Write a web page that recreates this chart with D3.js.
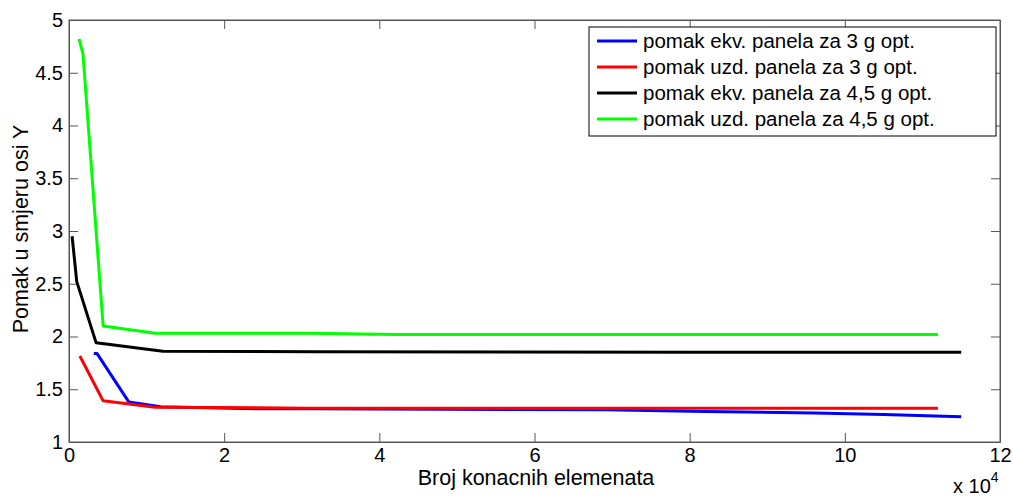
<!DOCTYPE html>
<html>
<head>
<meta charset="utf-8">
<script src="https://cdn.jsdelivr.net/npm/d3@7"></script>
<style>
  body { margin: 0; background: #fff; }
  svg { display: block; font-family: "Liberation Sans", Arial, sans-serif; }
  .axis path, .axis line { stroke: #555; }
  .axis text { fill: #000; font-size: 20px; font-family: "Liberation Sans", Arial, sans-serif; }
</style>
</head>
<body>
<div id="chart"></div>
<script>
const WIDTH = 1013;
const HEIGHT = 496;

// broj elemenata / pomak
const blueX  = [3200, 3600, 7700, 11800, 24000, 31000, 69000, 82000, 96000, 105000, 115000];
const blueY  = [1.84, 1.84, 1.38, 1.335, 1.315, 1.315, 1.305, 1.29, 1.275, 1.26, 1.24];
const redX   = [1400, 4400, 11100, 31000, 112000];
const redY   = [1.815, 1.39, 1.33, 1.32, 1.32];
const blackX = [400, 1000, 3500, 12100, 32000, 81000, 115000];
const blackY = [2.95, 2.52, 1.94, 1.86, 1.855, 1.85, 1.85];
const greenX = [1300, 1800, 4400, 11100, 31000, 42000, 112000];
const greenY = [4.82, 4.68, 2.10, 2.03, 2.03, 2.02, 2.02];

const seriesNames = [
  "pomak ekv. panela za 3 g opt.",
  "pomak uzd. panela za 3 g opt.",
  "pomak ekv. panela za 4,5 g opt.",
  "pomak uzd. panela za 4,5 g opt."
];
const seriesColors = ["#0000ff", "#ff0000", "#000000", "#00ff00"];

const xTicks = [0, 20000, 40000, 60000, 80000, 100000, 120000];
const yTicks = [1, 1.5, 2, 2.5, 3, 3.5, 4, 4.5, 5];

function setup(){
    let svg = d3.select("#chart")
        .append("svg")
        .attr("width", WIDTH)
        .attr("height", HEIGHT);

    let x = d3.scaleLinear().domain([0, 120000]).range([69, 1000]);
    let y = d3.scaleLinear().domain([1, 5]).range([442, 20]);

    // frame
    svg.append("rect")
        .attr("x", x(0)).attr("y", y(5))
        .attr("width", x(120000) - x(0))
        .attr("height", y(1) - y(5))
        .style("fill", "none").style("stroke", "#555");

    let xAxis = d3.axisBottom(x).tickValues(xTicks)
        .tickFormat(d => d / 10000).tickSizeInner(-9).tickSizeOuter(0).tickPadding(6);
    let yAxis = d3.axisLeft(y).tickValues(yTicks)
        .tickFormat(d => d).tickSizeInner(-9).tickSizeOuter(0).tickPadding(6);
    svg.append("g").attr("class", "x axis").attr("transform", "translate(0," + y(1) + ")").call(xAxis);
    svg.append("g").attr("class", "y axis").attr("transform", "translate(" + x(0) + ",0)").call(yAxis);
    // mirrored ticks top / right
    svg.append("g").attr("class", "axis").attr("transform", "translate(0," + y(5) + ")")
        .call(d3.axisTop(x).tickValues(xTicks).tickFormat("").tickSizeInner(-9).tickSizeOuter(0));
    svg.append("g").attr("class", "axis").attr("transform", "translate(" + x(120000) + ",0)")
        .call(d3.axisRight(y).tickValues(yTicks).tickFormat("").tickSizeInner(-9).tickSizeOuter(0));

    let line = d3.line().x(d => x(d[0])).y(d => y(d[1]));
    let allSeries = [
        d3.zip(blueX, blueY),
        d3.zip(redX, redY),
        d3.zip(blackX, blackY),
        d3.zip(greenX, greenY)
    ];
    svg.append("g").selectAll("path")
        .data(allSeries)
        .enter()
        .append("path")
        .attr("d", line)
        .style("fill", "none")
        .style("stroke", (d, i) => seriesColors[i])
        .style("stroke-width", 3)
        .style("stroke-linejoin", "round");

    // axis titles
    svg.append("text")
        .attr("x", 536).attr("y", 485)
        .attr("text-anchor", "middle")
        .style("font-size", "21.5px")
        .text("Broj konacnih elemenata");
    svg.append("text")
        .attr("transform", "translate(28,229) rotate(-90)")
        .attr("text-anchor", "middle")
        .style("font-size", "21.5px")
        .text("Pomak u smjeru osi Y");
    let exp = svg.append("text")
        .attr("x", 953).attr("y", 493)
        .style("font-size", "20px");
    exp.append("tspan").text("x 10");
    exp.append("tspan").attr("dy", -11).style("font-size", "14px").text("4");

    // legend
    let legend = svg.append("g");
    legend.append("rect")
        .attr("x", 589).attr("y", 27)
        .attr("width", 407).attr("height", 109)
        .style("fill", "#fff").style("stroke", "#000");
    let rows = legend.selectAll(".row")
        .data(seriesNames)
        .enter()
        .append("g")
        .attr("class", "row")
        .attr("transform", (d, i) => "translate(0," + (41 + i * 26) + ")");
    rows.append("line")
        .attr("x1", 597).attr("x2", 637)
        .style("stroke", (d, i) => seriesColors[i])
        .style("stroke-width", 3);
    rows.append("text")
        .attr("x", 643).attr("dy", "0.35em")
        .style("font-size", "20.5px")
        .text(d => d);
}

window.addEventListener("load", setup);
</script>
</body>
</html>
